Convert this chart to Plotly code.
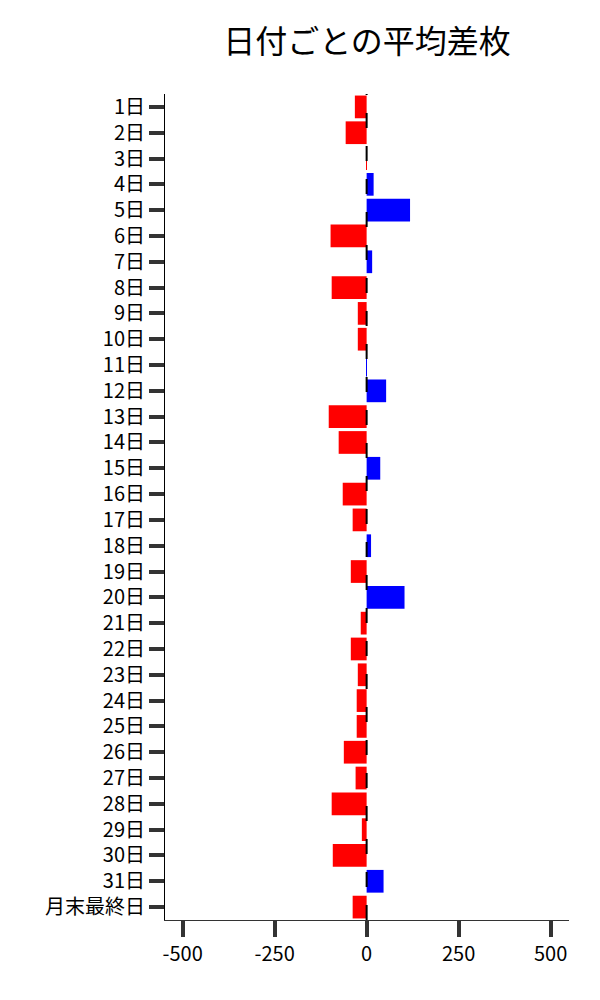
import plotly.graph_objects as go

days = [f"{i}日" for i in range(1, 32)] + ["月末最終日"]
avg_diff = [-32, -57, -1, 19, 118, -98, 15, -95, -24, -24,
            1, 53, -103, -76, 37, -65, -38, 12, -43, 103,
            -16, -43, -24, -27, -27, -62, -30, -95, -13, -92,
            46, -38]
colors = ["#0000FF" if v > 0 else "#FF0000" for v in avg_diff]

FONT = "Noto Sans CJK JP"

fig = go.Figure()
fig.add_trace(go.Bar(
    x=avg_diff, y=days, orientation="h",
    marker=dict(color=colors, line=dict(width=0)),
    showlegend=False,
))

fig.add_shape(type="line", xref="x", yref="paper", x0=0, x1=0, y0=0, y1=1,
              line=dict(color="black", width=2, dash="15px,18px"), layer="above")

fig.update_layout(
    width=600, height=1000,
    paper_bgcolor="white", plot_bgcolor="white",
    font=dict(family=FONT, size=20, color="black"),
    title=dict(text="日付ごとの平均差枚", font=dict(family=FONT, size=32, color="black"),
               x=0.5, xref="paper", xanchor="center", y=0.966, yanchor="middle"),
    margin=dict(l=157, r=39, t=86, b=88),
    bargap=0.12,
)
fig.update_xaxes(
    range=[-548, 550], tickvals=[-500, -250, 0, 250, 500],
    ticktext=["-500", "-250", "0", "250", "500"],
    showgrid=False, zeroline=False,
    showline=True, linecolor="#333", linewidth=1,
    ticks="outside", ticklen=16, tickwidth=4, tickcolor="#333",
    tickfont=dict(family=FONT, size=20, color="black"),
)
fig.update_yaxes(
    autorange="reversed", showgrid=False, zeroline=False,
    showline=True, linecolor="black", linewidth=1,
    ticks="outside", ticklen=15, tickwidth=4, tickcolor="#333",
    tickfont=dict(family=FONT, size=20, color="black"),
)

fig.write_html("out.html")
